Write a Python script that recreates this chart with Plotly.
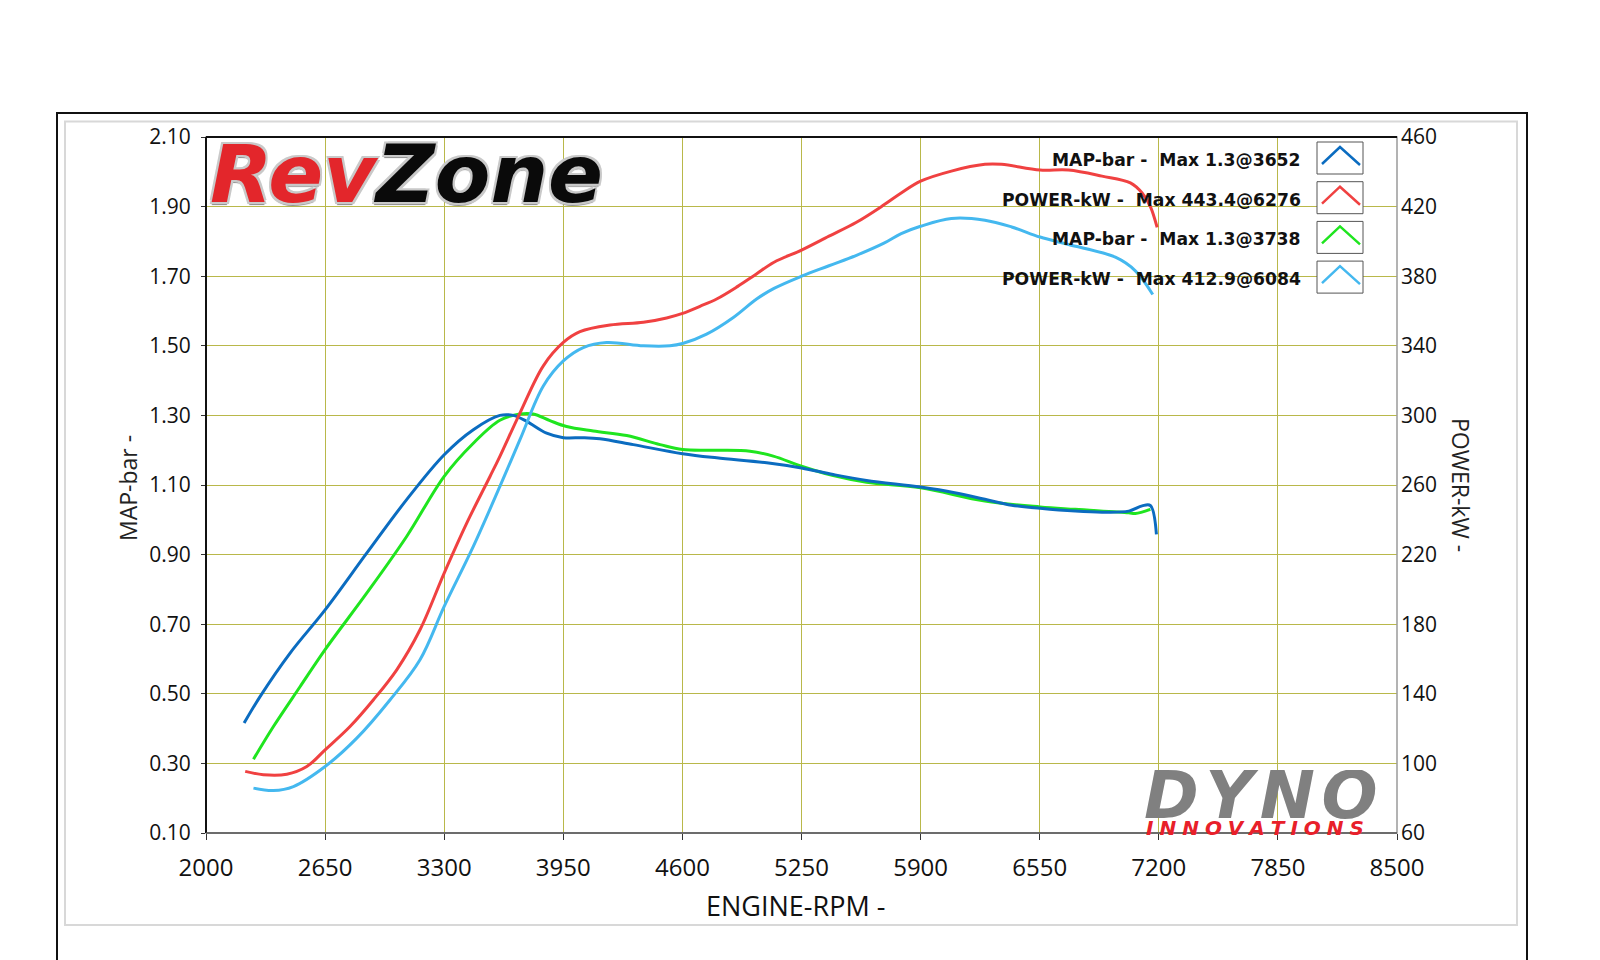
import plotly.graph_objects as go

# ---------------- data ----------------
rpm_map_a = [2208, 2295, 2459, 2650, 2877, 3095, 3300, 3459, 3604, 3677, 3750, 3859, 3950, 4059,
             4150, 4332, 4601, 4787, 5060, 5250, 5423, 5605, 5900, 6086, 6251, 6397, 6552, 6744,
             6890, 7036, 7109, 7154, 7187]
map_a = [0.416, 0.492, 0.617, 0.741, 0.904, 1.058, 1.187, 1.259, 1.300, 1.300, 1.283, 1.249, 1.236,
         1.236, 1.233, 1.216, 1.190, 1.178, 1.164, 1.149, 1.130, 1.113, 1.094, 1.078, 1.059, 1.042,
         1.033, 1.025, 1.022, 1.025, 1.040, 1.041, 0.958]

rpm_map_b = [2259, 2368, 2514, 2650, 2877, 3095, 3300, 3459, 3604, 3713, 3786, 3877, 3968, 4114,
             4296, 4478, 4601, 4787, 4969, 5096, 5250, 5423, 5605, 5900, 6251, 6552, 6744, 7036,
             7072, 7154]
map_b = [0.312, 0.406, 0.521, 0.627, 0.789, 0.952, 1.125, 1.220, 1.286, 1.304, 1.304, 1.285, 1.268,
         1.255, 1.242, 1.216, 1.202, 1.200, 1.197, 1.183, 1.154, 1.127, 1.108, 1.092, 1.054, 1.037,
         1.030, 1.020, 1.018, 1.030]

rpm_pow_a = [2214, 2313, 2441, 2550, 2650, 2786, 2914, 3041, 3168, 3300, 3423, 3550, 3604, 3714,
             3841, 3950, 4041, 4205, 4387, 4514, 4601, 4696, 4787, 4900, 5000, 5100, 5250, 5400,
             5550, 5700, 5794, 5900, 6068, 6251, 6342, 6552, 6707, 6890, 7045, 7109, 7154, 7191]
pow_a = [95.4, 93.5, 93.8, 98.2, 107.8, 121.2, 136.6, 153.8, 176.8, 209.4, 238.1, 264.9, 276.5,
         301.5, 328.5, 341.9, 348.1, 351.9, 353.5, 356.0, 358.6, 362.7, 366.9, 374.0, 381.0, 388.0,
         395.0, 403.0, 411.0, 421.0, 427.8, 434.6, 440.4, 444.3, 444.3, 441.0, 441.0, 437.5, 433.6,
         427.8, 420.0, 408.0]

rpm_pow_b = [2259, 2368, 2477, 2650, 2823, 3005, 3168, 3300, 3459, 3604, 3714, 3841, 3950, 4059,
             4186, 4387, 4532, 4601, 4732, 4878, 5005, 5100, 5250, 5400, 5550, 5700, 5794, 5900,
             6068, 6251, 6397, 6552, 6707, 6963, 7072, 7167]
pow_b = [85.8, 84.4, 86.7, 98.2, 114.5, 136.6, 159.6, 190.2, 224.7, 259.2, 286.2, 316.9, 331.3,
         339.0, 341.9, 340.0, 340.0, 341.3, 346.7, 356.3, 366.9, 373.0, 380.0, 386.0, 392.0, 399.0,
         404.5, 408.7, 413.2, 412.2, 408.3, 402.5, 398.2, 390.9, 383.1, 369.5]

x_ticks = [2000, 2650, 3300, 3950, 4600, 5250, 5900, 6550, 7200, 7850, 8500]
map_ticks = [0.10, 0.30, 0.50, 0.70, 0.90, 1.10, 1.30, 1.50, 1.70, 1.90, 2.10]
pow_ticks = [60, 100, 140, 180, 220, 260, 300, 340, 380, 420, 460]

legend_labels = ["MAP-bar -  Max 1.3@3652", "POWER-kW -  Max 443.4@6276",
                 "MAP-bar -  Max 1.3@3738", "POWER-kW -  Max 412.9@6084"]

C_BLUE = "#0b6cc0"
C_RED = "#f04141"
C_GREEN = "#1fe51f"
C_LBLUE = "#44b8ef"
legend_colors = [C_BLUE, C_RED, C_GREEN, C_LBLUE]
GRID = "#b9b84a"

# ---------------- layout helpers (pixel -> paper) ----------------
L, R, T, B = 206, 1397, 137, 833
W, H = 1600, 960


def px(x):
    return (x - L) / (R - L)


def py(y):
    return (B - y) / (B - T)


SM = 1.0
fig = go.Figure()
fig.add_trace(go.Scatter(x=rpm_map_b, y=map_b, mode="lines", yaxis="y",
                         line=dict(color=C_GREEN, width=3, shape="spline", smoothing=SM)))
fig.add_trace(go.Scatter(x=rpm_map_a, y=map_a, mode="lines", yaxis="y",
                         line=dict(color=C_BLUE, width=3, shape="spline", smoothing=SM)))
fig.add_trace(go.Scatter(x=rpm_pow_b, y=pow_b, mode="lines", yaxis="y2",
                         line=dict(color=C_LBLUE, width=3, shape="spline", smoothing=SM)))
fig.add_trace(go.Scatter(x=rpm_pow_a, y=pow_a, mode="lines", yaxis="y2",
                         line=dict(color=C_RED, width=3, shape="spline", smoothing=SM)))

tickfont = dict(family="Open Sans", size=21, color="#111111")
xtickfont = dict(family="Open Sans", size=24, color="#111111")

fig.update_layout(
    width=W, height=H,
    margin=dict(l=L, r=W - R, t=T, b=H - B, pad=0),
    paper_bgcolor="white", plot_bgcolor="white",
    showlegend=False,
    xaxis=dict(range=[2000, 8500], tickvals=x_ticks, showgrid=True, gridcolor=GRID, gridwidth=1,
               ticks="outside", ticklen=6, tickcolor="#333", tickfont=xtickfont, zeroline=False,
               showline=False, ticklabelstandoff=7),
    yaxis=dict(range=[0.1, 2.1], tickvals=map_ticks, tickformat=".2f", showgrid=True,
               gridcolor=GRID, gridwidth=1, ticks="outside", ticklen=4, tickcolor="#333",
               tickfont=tickfont, zeroline=False, showline=False, ticklabelstandoff=6),
    yaxis2=dict(range=[60, 460], tickvals=pow_ticks, overlaying="y", side="right", showgrid=False,
                ticks="", tickfont=tickfont, zeroline=False, showline=False,
                ticklabelstandoff=3),
)

shapes = []
# outer frames
shapes.append(dict(type="rect", xref="paper", yref="paper", x0=px(57), x1=px(1527), y0=py(975),
                   y1=py(113), line=dict(color="#111", width=2), fillcolor="rgba(0,0,0,0)",
                   layer="below"))
shapes.append(dict(type="rect", xref="paper", yref="paper", x0=px(65), x1=px(1517), y0=py(925),
                   y1=py(121.5), line=dict(color="#d8d8d8", width=2), fillcolor="rgba(0,0,0,0)",
                   layer="below"))
# plot area border
shapes.append(dict(type="rect", xref="paper", yref="paper", x0=0, x1=1, y0=0, y1=1,
                   line=dict(color="#9a9a9a", width=1.5), layer="above"))
shapes.append(dict(type="line", xref="paper", yref="paper", x0=0, x1=1, y0=1, y1=1,
                   line=dict(color="#111", width=2), layer="above"))
shapes.append(dict(type="line", xref="paper", yref="paper", x0=0, x1=0, y0=0, y1=1,
                   line=dict(color="#111", width=2), layer="above"))
shapes.append(dict(type="line", xref="paper", yref="paper", x0=0, x1=1, y0=0, y1=0,
                   line=dict(color="#555", width=1.5), layer="above"))
# logo backgrounds (hide grid)
shapes.append(dict(type="rect", xref="paper", yref="paper", x0=px(208), x1=px(598), y0=py(209),
                   y1=py(139), line=dict(width=0), fillcolor="white", layer="between"))
shapes.append(dict(type="rect", xref="paper", yref="paper", x0=px(1143), x1=px(1375), y0=py(833),
                   y1=py(769), line=dict(width=0), fillcolor="white", layer="between"))

annotations = []
# custom legend
for i, (lab, col) in enumerate(zip(legend_labels, legend_colors)):
    top = 142 + 39.7 * i
    shapes.append(dict(type="rect", xref="paper", yref="paper", x0=px(1317), x1=px(1363),
                       y0=py(top + 32), y1=py(top), line=dict(color="#555", width=1),
                       fillcolor="white", layer="above"))
    shapes.append(dict(type="path", xref="paper", yref="paper",
                       path=f"M {px(1322)},{py(top + 22)} L {px(1340)},{py(top + 5)} L {px(1360)},{py(top + 23)}",
                       line=dict(color=col, width=2.5), layer="above"))
    annotations.append(dict(xref="paper", yref="paper", x=px(1303), y=py(160 + 39.7 * i),
                            xanchor="right", yanchor="middle", showarrow=False, text=lab,
                            font=dict(family="DejaVu Sans", size=17.2, color="#111", weight="bold")))

# axis titles
annotations.append(dict(xref="paper", yref="paper", x=px(795), y=py(905), xanchor="center",
                        yanchor="middle", showarrow=False, text="ENGINE-RPM -",
                        font=dict(family="Open Sans", size=27, color="#111")))
annotations.append(dict(xref="paper", yref="paper", x=px(128), y=py(488), xanchor="center",
                        yanchor="middle", showarrow=False, text="MAP-bar -", textangle=-90,
                        font=dict(family="Open Sans", size=23, color="#222")))
annotations.append(dict(xref="paper", yref="paper", x=px(1461), y=py(485), xanchor="center",
                        yanchor="middle", showarrow=False, text="POWER-kW -", textangle=90,
                        font=dict(family="Open Sans", size=23, color="#222")))

# logos
outline = ("-2px -2px 0 #c9c9c9, 2px -2px 0 #c9c9c9, -2px 2px 0 #c9c9c9, 2px 2px 0 #c9c9c9, "
           "0 3px 1px #8a8a8a")
annotations.append(dict(xref="paper", yref="paper", x=px(208), y=py(174), xanchor="left",
                        yanchor="middle", showarrow=False,
                        text="<span style='color:#e3262b'>Rev</span><span style='color:#0a0a0a'>Zone</span>",
                        font=dict(family="DejaVu Sans", size=81, weight="bold", style="italic",
                                  shadow=outline)))
annotations.append(dict(xref="paper", yref="paper", x=px(1261), y=py(795), xanchor="center",
                        yanchor="middle", showarrow=False, text="\u200a".join("DYNO"),
                        height=50, valign="middle",
                        font=dict(family="DejaVu Sans", size=66, weight="bold", style="italic",
                                  color="#808080")))
annotations.append(dict(xref="paper", yref="paper", x=px(1255), y=py(828), xanchor="center",
                        yanchor="middle", showarrow=False, height=16, valign="middle",
                        text="\u2009\u200a".join("INNOVATIONS"),
                        font=dict(family="DejaVu Sans", size=20, weight="bold", style="italic",
                                  color="#e8202a")))

fig.update_layout(shapes=shapes, annotations=annotations)
fig.write_html("out.html")
